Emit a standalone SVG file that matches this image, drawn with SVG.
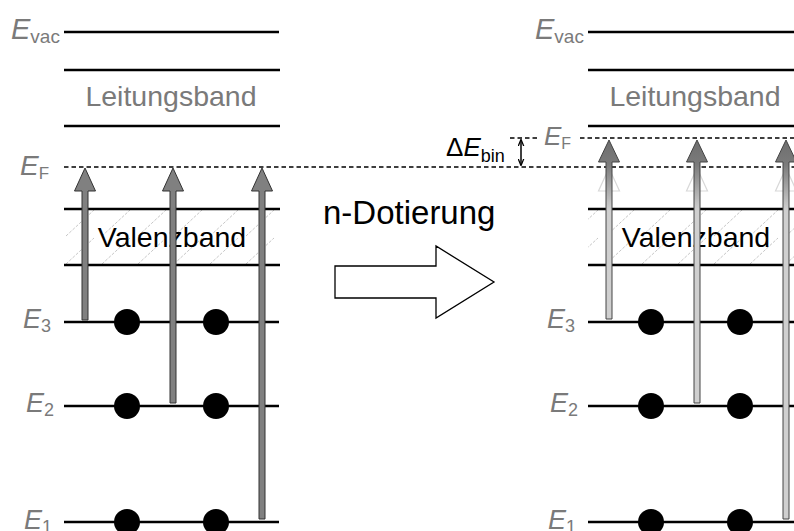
<svg xmlns="http://www.w3.org/2000/svg" width="794" height="531" viewBox="0 0 794 531">
<style>
.lv{stroke:#000;stroke-width:2.4;fill:none}
.dash{stroke:#000;stroke-width:1.3;stroke-dasharray:4.5 3;fill:none}
.lbl{font-family:"Liberation Sans",Arial,sans-serif;fill:#7a7a7a}
.it{font-style:italic}
.band{font-family:"Liberation Sans",Arial,sans-serif;font-size:28.5px;text-anchor:middle}
.dot{fill:#000}
.arrL{fill:#808080;stroke:#333;stroke-width:1}
.arrR{fill:url(#shaftGrad);stroke:#444;stroke-width:1}
.ghost{fill:none;stroke:#d8d8d8;stroke-width:1.2}
</style>
<defs>
<pattern id="hatch" patternUnits="userSpaceOnUse" width="36" height="28" x="64" y="209">
<path d="M2,27 L30,1" stroke="#b8b8b8" stroke-width="0.8" stroke-dasharray="3 1.5" fill="none"/>
</pattern>
<linearGradient id="shaftGrad" gradientUnits="userSpaceOnUse" x1="0" y1="139" x2="0" y2="210">
<stop offset="0" stop-color="#6e6e6e"/>
<stop offset="0.35" stop-color="#7a7a7a"/>
<stop offset="1" stop-color="#cfcfcf"/>
</linearGradient>
<marker id="ah" viewBox="0 0 10 10" refX="9" refY="5" markerWidth="7" markerHeight="7" orient="auto-start-reverse" markerUnits="userSpaceOnUse">
<path d="M0,1 L10,5 L0,9" fill="none" stroke="#000" stroke-width="1.8"/>
</marker>
</defs>

<!-- LEFT PANEL -->
<g id="left-bands">
<rect x="64" y="209" width="215" height="56" fill="url(#hatch)"/>
<line class="lv" x1="64" y1="32" x2="279" y2="32"/>
<line class="lv" x1="64" y1="70" x2="280" y2="70"/>
<line class="lv" x1="64" y1="126" x2="280" y2="126"/>
<line class="lv" x1="64" y1="209" x2="280" y2="209"/>
<line class="lv" x1="64" y1="265" x2="280" y2="265"/>
<line class="lv" x1="64" y1="322" x2="279" y2="322"/>
<line class="lv" x1="64" y1="406" x2="279" y2="406"/>
<line class="lv" x1="64" y1="522" x2="279" y2="522"/>
<text class="band" x="171" y="106" fill="#7a7a7a">Leitungsband</text>
<text class="band" x="172" y="247" fill="#000">Valenzband</text>
</g>
<g id="left-labels">
<text class="lbl" x="11" y="39" font-size="29"><tspan class="it">E</tspan><tspan font-size="19" dy="4">vac</tspan></text>
<text class="lbl" x="20" y="175" font-size="28"><tspan class="it">E</tspan><tspan font-size="17" dy="4">F</tspan></text>
<text class="lbl" x="23" y="328" font-size="27"><tspan class="it">E</tspan><tspan font-size="18" dy="4">3</tspan></text>
<text class="lbl" x="26" y="412" font-size="27"><tspan class="it">E</tspan><tspan font-size="18" dy="4">2</tspan></text>
<text class="lbl" x="24" y="529" font-size="27"><tspan class="it">E</tspan><tspan font-size="18" dy="4">1</tspan></text>
</g>
<g id="left-electrons">
<circle class="dot" cx="127" cy="322" r="13"/>
<circle class="dot" cx="216" cy="322" r="13"/>
<circle class="dot" cx="127" cy="406" r="13"/>
<circle class="dot" cx="216" cy="406" r="13"/>
<circle class="dot" cx="127" cy="522" r="13"/>
<circle class="dot" cx="216" cy="522" r="13"/>
</g>

<!-- dashed Fermi lines -->
<g id="connectors">
<line class="dash" x1="64" y1="167" x2="794" y2="167"/>
<line class="dash" x1="510" y1="138" x2="540" y2="138"/>
<line class="dash" x1="580" y1="138" x2="794" y2="138"/>
<line x1="521" y1="140" x2="521" y2="165" stroke="#000" stroke-width="1.5" marker-start="url(#ah)" marker-end="url(#ah)"/>
</g>

<g id="left-arrows">
<path class="arrL" d="M85,168 L95.5,191 L88,191 L88,320 L82,320 L82,191 L74.5,191 Z"/>
<path class="arrL" d="M173,168 L183.5,191 L176,191 L176,403 L170,403 L170,191 L162.5,191 Z"/>
<path class="arrL" d="M262,168 L272.5,191 L265,191 L265,519 L259,519 L259,191 L251.5,191 Z"/>
</g>

<!-- MIDDLE -->
<g id="doping">
<text x="323" y="224" font-family="Liberation Sans,Arial,sans-serif" font-size="33" fill="#000">n-Dotierung</text>
<path d="M335,266 L436,266 L436,246 L494,282 L436,318 L436,298 L335,298 Z" fill="#fff" stroke="#000" stroke-width="1.3"/>
</g>
<g id="dEbin">
<text x="446" y="156" font-family="Liberation Sans,Arial,sans-serif" font-size="26" fill="#000">Δ<tspan font-style="italic">E</tspan><tspan font-size="18" dy="6">bin</tspan></text>
</g>

<!-- RIGHT PANEL -->
<g id="right-bands">
<rect x="588" y="209" width="206" height="56" fill="url(#hatch)"/>
<line class="lv" x1="588" y1="32" x2="794" y2="32"/>
<line class="lv" x1="588" y1="70" x2="794" y2="70"/>
<line class="lv" x1="588" y1="126" x2="794" y2="126"/>
<line class="lv" x1="588" y1="209" x2="794" y2="209"/>
<line class="lv" x1="588" y1="265" x2="794" y2="265"/>
<line class="lv" x1="588" y1="322" x2="794" y2="322"/>
<line class="lv" x1="588" y1="406" x2="794" y2="406"/>
<line class="lv" x1="588" y1="522" x2="794" y2="522"/>
<text class="band" x="695" y="106" fill="#7a7a7a">Leitungsband</text>
<text class="band" x="696" y="247" fill="#000">Valenzband</text>
</g>
<g id="right-labels">
<text class="lbl" x="535" y="39" font-size="29"><tspan class="it">E</tspan><tspan font-size="19" dy="4">vac</tspan></text>
<text class="lbl" x="544" y="145" font-size="26"><tspan class="it">E</tspan><tspan font-size="16" dy="4">F</tspan></text>
<text class="lbl" x="547" y="328" font-size="27"><tspan class="it">E</tspan><tspan font-size="18" dy="4">3</tspan></text>
<text class="lbl" x="550" y="412" font-size="27"><tspan class="it">E</tspan><tspan font-size="18" dy="4">2</tspan></text>
<text class="lbl" x="548" y="529" font-size="27"><tspan class="it">E</tspan><tspan font-size="18" dy="4">1</tspan></text>
</g>
<g id="right-electrons">
<circle class="dot" cx="651" cy="322" r="13"/>
<circle class="dot" cx="740" cy="322" r="13"/>
<circle class="dot" cx="651" cy="406" r="13"/>
<circle class="dot" cx="740" cy="406" r="13"/>
<circle class="dot" cx="651" cy="522" r="13"/>
<circle class="dot" cx="740" cy="522" r="13"/>
</g>
<g id="right-arrows">
<path class="ghost" d="M609,168 L619.5,191 L598.5,191 Z"/>
<path class="ghost" d="M697,168 L707.5,191 L686.5,191 Z"/>
<path class="ghost" d="M786,168 L796.5,191 L775.5,191 Z"/>
<path class="arrR" d="M609,140 L619.5,162 L612,162 L612,319 L606,319 L606,162 L598.5,162 Z"/>
<path class="arrR" d="M697,140 L707.5,162 L700,162 L700,403 L694,403 L694,162 L686.5,162 Z"/>
<path class="arrR" d="M786,140 L796.5,162 L789,162 L789,519 L783,519 L783,162 L775.5,162 Z"/>
</g>
</svg>
